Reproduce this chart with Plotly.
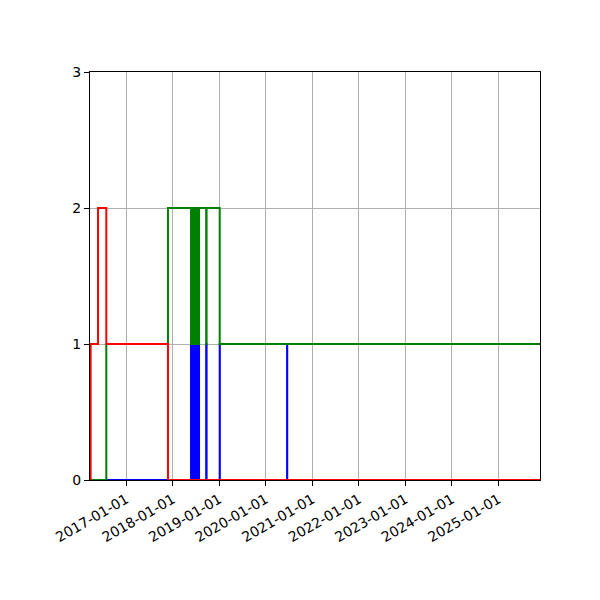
import plotly.graph_objects as go

# step change dates (value holds until the next date)
dates = [
    "2016-03-22", "2016-03-27", "2016-05-24", "2016-07-28", "2017-11-24",
    "2018-05-24", "2018-05-28", "2018-05-31", "2018-06-04", "2018-06-08",
    "2018-06-14", "2018-06-17", "2018-06-21", "2018-06-24", "2018-06-28",
    "2018-07-01", "2018-07-05", "2018-07-08", "2018-07-12", "2018-07-15",
    "2018-07-19", "2018-07-22", "2018-07-26",
    "2018-09-20", "2018-09-23", "2019-01-04", "2019-01-05",
    "2020-06-16", "2020-06-17", "2025-11-22",
]
red = [0, 1, 2, 1, 0,
       0, 0, 0, 0, 0, 0, 0, 0, 0, 0, 0, 0, 0, 0, 0, 0, 0, 0,
       0, 0, 0, 0, 0, 0, 0]
green = [0, 0, 0, 1, 2,
         1, 2, 1, 2, 1, 2, 1, 2, 1, 2, 1, 2, 1, 2, 1, 2, 1, 2,
         1, 2, 1, 1, 1, 1, 1]
blue = [0, 0, 0, 0, 0,
        1, 0, 1, 0, 1, 0, 1, 0, 1, 0, 1, 0, 1, 0, 1, 0, 1, 0,
        1, 0, 1, 0, 1, 0, 0]

tick_years = [2017, 2018, 2019, 2020, 2021, 2022, 2023, 2024, 2025]
tick_vals = [f"{y}-01-01" for y in tick_years]

fig = go.Figure()
for vals, color in [(blue, "blue"), (green, "green"), (red, "red")]:
    fig.add_trace(go.Scatter(x=dates, y=vals, mode="lines",
                             line=dict(color=color, width=2, shape="hv"),
                             showlegend=False))

axis_style = dict(showline=True, linecolor="black", linewidth=1, mirror=True,
                  ticks="outside", ticklen=5, tickcolor="black",
                  showgrid=True, gridcolor="#b0b0b0", gridwidth=0.8,
                  zeroline=False, tickfont=dict(family="DejaVu Sans", size=14, color="black"))

fig.update_xaxes(type="date", range=[dates[0], dates[-1]],
                 tickvals=tick_vals, ticktext=tick_vals, tickangle=-30, **axis_style)
fig.update_yaxes(range=[0, 3], tickvals=[0, 1, 2, 3], **axis_style)

fig.update_layout(width=600, height=600, margin=dict(l=82, r=68, t=64, b=128),
                  plot_bgcolor="white", paper_bgcolor="white")

fig.write_html("out.html")
